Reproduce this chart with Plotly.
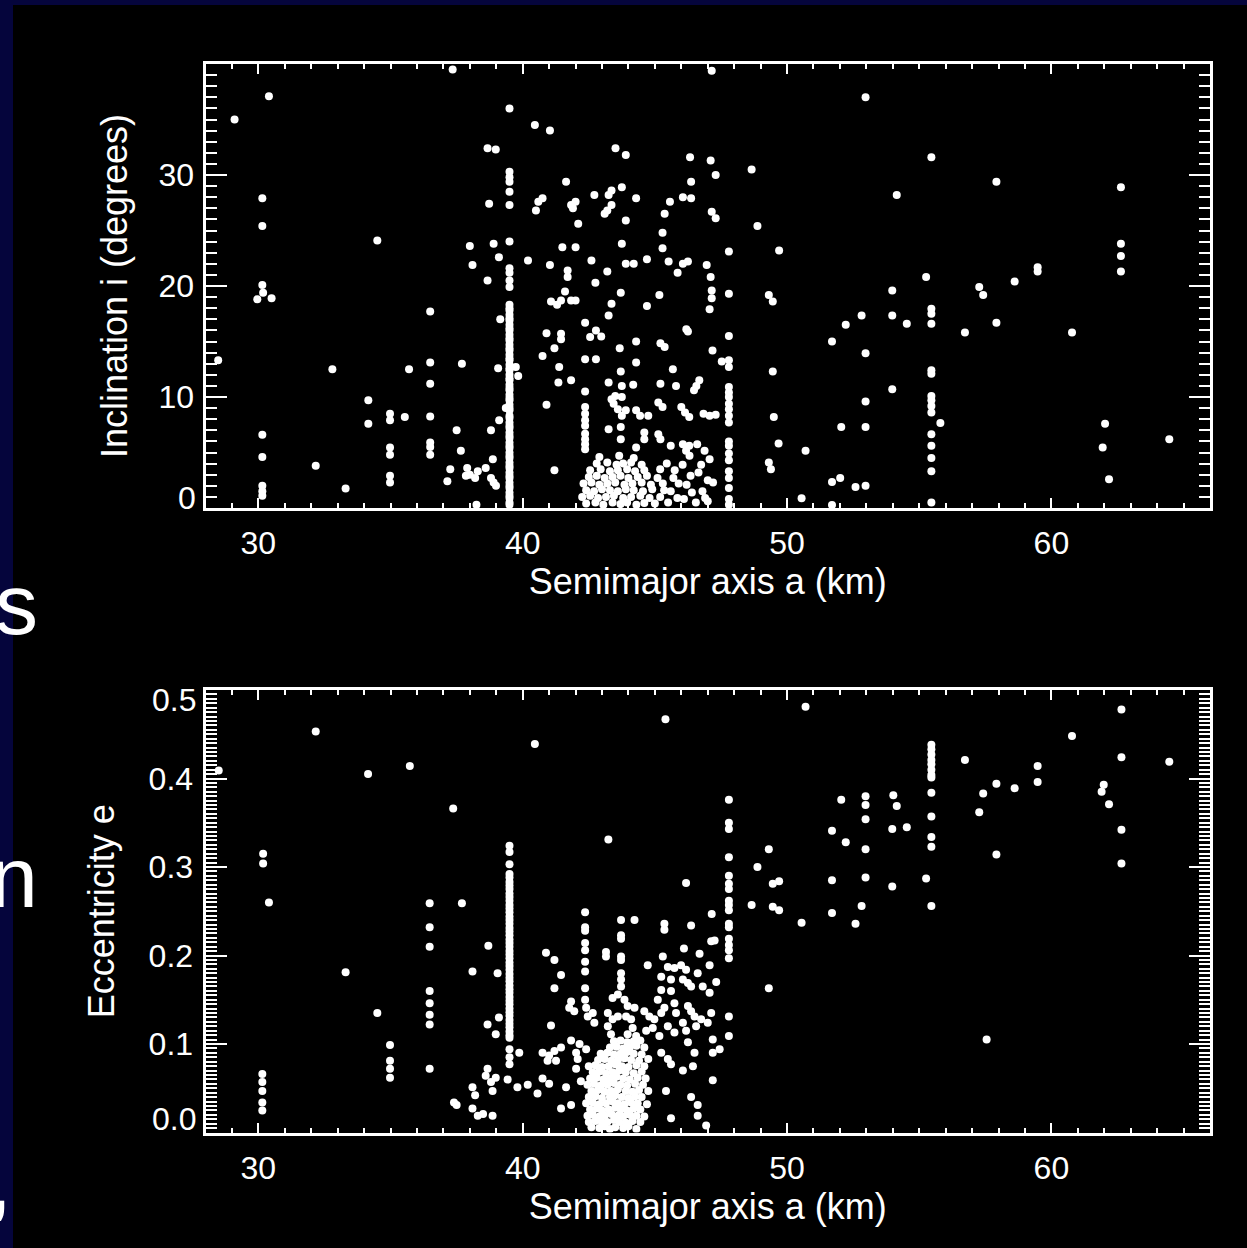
import plotly.graph_objects as go

W, H = 1247, 1248
NAVY = "#05053c"
WHITE = "#ffffff"
FONT = "Liberation Sans"

# ---------------------------------------------------------------------------
# Top panel: semimajor axis a vs inclination i (degrees)
# ---------------------------------------------------------------------------
plutino_a = 39.5          # 3:2 resonance column
plutino_incl = [30.3, 29.8, 29.4, 28.5, 27.3, 24.0, 21.6, 21.2, 20.5, 19.9,
                18.3, 18.0, 17.8, 17.4, 17.1, 16.9, 16.5, 16.2, 16.0, 15.6,
                15.3, 15.1, 14.7, 14.4, 14.2, 13.8, 13.5, 13.3, 12.9, 12.6,
                12.4, 12.0, 11.7, 11.5, 11.1, 10.8, 10.6, 10.2, 9.9, 9.7,
                9.3, 9.0, 8.8, 8.3, 8.1, 7.7, 7.4, 7.2, 6.8, 6.5, 6.3, 5.9,
                5.6, 5.4, 5.0, 4.7, 4.5, 4.1, 3.8, 3.6, 3.2, 2.9, 2.7, 2.3,
                2.0, 1.8, 1.4, 1.1, 0.9, 0.5, 0.3]

res21_a = 47.8            # 2:1 resonance column
res21_incl = [23.1, 19.3, 15.5, 13.3, 12.7, 10.9, 10.4, 10.0, 9.4, 8.9, 8.3,
              7.7, 6.0, 5.6, 4.9, 4.3, 3.3, 2.7, 1.8, 0.8, 0.3]

incl_scattered = [
    (29.1, 35.0), (30.4, 37.1), (37.35, 39.5), (39.5, 36.0), (40.46, 34.5),
    (41.03, 34.0), (38.67, 32.4), (38.98, 32.3), (38.73, 27.4), (41.64, 29.4),
    (42.71, 28.2), (40.59, 27.6), (40.75, 27.9), (40.5, 26.8), (41.83, 27.3),
    (42.0, 27.6), (41.9, 27.0), (42.1, 25.6), (30.15, 27.9), (30.15, 25.4),
    (34.5, 24.1), (38.0, 23.6), (38.9, 23.8), (39.1, 22.6), (38.1, 21.9),
    (40.2, 22.3), (41.03, 21.9), (41.5, 23.5), (42.0, 23.5), (42.6, 22.3),
    (41.7, 21.4), (41.7, 20.8), (42.75, 20.3), (38.67, 20.5), (30.15, 20.1),
    (30.18, 19.4), (29.96, 18.8), (30.5, 18.9), (41.6, 19.5), (41.07, 18.6),
    (41.3, 18.3), (41.45, 18.7), (41.83, 18.7), (42.0, 18.7), (36.5, 17.7),
    (39.15, 17.0), (42.36, 16.7), (42.77, 16.0), (40.9, 15.75), (41.45, 15.7),
    (41.45, 15.2), (42.55, 15.4), (41.2, 14.4), (40.75, 13.7), (42.36, 13.4),
    (42.77, 13.4), (28.48, 13.3), (32.8, 12.5), (35.7, 12.5), (36.5, 13.1),
    (37.7, 13.0), (39.07, 12.6), (39.74, 12.7), (39.83, 11.9), (41.38, 12.7),
    (36.5, 11.2), (41.35, 11.3), (41.83, 11.5), (42.36, 10.5), (34.16, 9.7),
    (39.36, 9.0), (40.9, 9.3), (34.98, 8.5), (34.98, 7.9), (35.54, 8.2),
    (36.5, 8.25), (39.11, 7.9), (34.16, 7.6), (37.5, 7.0), (38.8, 7.0),
    (30.15, 6.6), (36.5, 5.9), (36.5, 5.5), (36.5, 4.8), (34.98, 5.45),
    (34.98, 4.8), (37.66, 5.15), (30.15, 4.6), (42.36, 9.1), (42.36, 8.5),
    (42.36, 7.9), (42.36, 7.4), (42.36, 6.7), (42.36, 6.2), (42.36, 5.75),
    (42.36, 5.3), (32.17, 3.8), (38.87, 4.4), (37.26, 3.5), (37.15, 2.4),
    (37.9, 3.6), (38.0, 3.0), (38.2, 2.7), (37.85, 2.9), (38.3, 3.3),
    (38.6, 3.6), (38.8, 2.7), (38.9, 2.3), (38.99, 2.0), (41.2, 3.4),
    (34.98, 2.9), (34.98, 2.3), (33.3, 1.75), (30.15, 2.0), (30.15, 1.5),
    (30.15, 1.1), (38.25, 0.3),
    (47.15, 39.4), (52.97, 37.0), (43.51, 32.4), (43.9, 31.8), (46.33, 31.6),
    (47.11, 31.3), (47.3, 30.0), (48.66, 30.5), (55.46, 31.6), (57.92, 29.4),
    (62.63, 28.9), (46.37, 29.4), (43.25, 28.2), (43.36, 28.6), (43.75, 28.9),
    (44.29, 27.9), (45.57, 27.6), (46.06, 28.0), (46.37, 27.9), (54.15, 28.2),
    (43.36, 27.3), (43.2, 26.8), (43.1, 26.5), (45.37, 26.5), (43.9, 25.9),
    (47.15, 26.7), (47.3, 26.1), (48.88, 25.4), (45.29, 24.8), (43.75, 23.8),
    (45.29, 23.4), (49.7, 23.2), (62.63, 23.8), (62.63, 22.7), (62.63, 21.3),
    (43.9, 22.0), (44.2, 22.0), (44.7, 22.4), (45.52, 22.2), (46.06, 22.0),
    (46.25, 22.2), (45.86, 21.2), (46.96, 21.9), (47.11, 20.8), (43.2, 21.3),
    (59.48, 21.7), (59.48, 21.3), (55.26, 20.8), (58.61, 20.4), (57.27, 19.9),
    (57.42, 19.2), (53.98, 19.6), (43.71, 19.4), (45.17, 19.2), (47.15, 19.6),
    (47.15, 18.9), (49.31, 19.2), (49.46, 18.6), (43.36, 18.4), (44.7, 18.2),
    (47.07, 17.9), (43.25, 17.35), (52.82, 17.35), (53.98, 17.35), (55.46, 17.95),
    (55.46, 17.5), (55.46, 16.6), (54.53, 16.6), (52.22, 16.5), (57.92, 16.7),
    (56.73, 15.8), (60.78, 15.8), (51.7, 15.0), (42.97, 15.45), (46.19, 16.1),
    (46.25, 15.9), (44.29, 15.0), (43.67, 14.4), (45.21, 14.85), (45.37, 14.5),
    (47.18, 14.2), (52.97, 13.95), (44.29, 13.1), (47.53, 13.2), (43.71, 12.3),
    (45.68, 12.5), (49.46, 12.3), (55.46, 12.4), (55.46, 12.1), (43.25, 11.3),
    (43.75, 11.0), (44.18, 11.1), (45.21, 11.2), (45.8, 11.0), (46.68, 11.5),
    (46.57, 11.0), (46.48, 10.6), (53.98, 10.7), (43.36, 9.8), (43.5, 10.1),
    (43.75, 10.0), (43.44, 9.4), (43.6, 8.9), (43.75, 8.3), (43.9, 8.8),
    (52.97, 9.6), (55.46, 10.1), (55.46, 9.7), (55.46, 9.2), (55.46, 8.6),
    (44.29, 8.8), (44.44, 8.3), (44.75, 8.3), (45.13, 9.5), (45.29, 9.1),
    (46.0, 9.1), (46.14, 8.6), (46.3, 8.2), (46.84, 8.5), (47.07, 8.3),
    (47.3, 8.4), (49.5, 8.2), (55.8, 7.65), (62.03, 7.6), (52.05, 7.3),
    (52.97, 7.3), (43.25, 7.1), (43.71, 7.3), (44.6, 6.8), (44.6, 6.2),
    (45.13, 6.65), (45.21, 6.2), (46.06, 5.75), (46.3, 5.6), (46.6, 5.75),
    (43.71, 6.2), (44.29, 5.45), (45.6, 5.6), (46.18, 5.15), (46.31, 4.7),
    (46.88, 5.15), (47.07, 4.4), (55.46, 6.65), (55.46, 5.6), (55.46, 4.5),
    (55.46, 3.3), (49.68, 5.8), (50.7, 5.15), (64.46, 6.2), (61.94, 5.45),
    (49.31, 4.1), (49.39, 3.5), (62.18, 2.6), (51.7, 2.35), (52.01, 2.7),
    (52.59, 1.9), (52.97, 2.0), (50.55, 0.87), (51.7, 0.27), (55.46, 0.5),
]

incl_core = [
    (42.4, 0.4), (42.75, 0.5), (43.05, 0.3), (43.4, 0.5), (43.7, 0.35),
    (43.95, 0.5), (44.3, 0.3), (44.6, 0.45), (45.0, 0.4), (45.5, 0.5),
    (42.25, 1.0), (42.55, 1.1), (42.85, 0.9), (43.15, 1.0), (43.45, 1.1),
    (43.8, 0.9), (44.1, 1.0), (44.45, 1.1), (44.8, 0.9), (45.2, 1.0), (45.85, 0.9),
    (42.4, 1.6), (42.7, 1.5), (43.0, 1.7), (43.3, 1.6), (43.6, 1.5),
    (43.9, 1.7), (44.2, 1.6), (44.55, 1.5), (44.9, 1.7), (45.35, 1.6),
    (42.3, 2.2), (42.6, 2.3), (42.9, 2.1), (43.2, 2.2), (43.5, 2.3),
    (43.85, 2.1), (44.15, 2.2), (44.5, 2.3), (44.85, 2.1), (45.3, 2.2), (45.9, 2.2),
    (42.5, 2.8), (42.8, 2.9), (43.1, 2.7), (43.4, 2.8), (43.7, 2.9),
    (44.0, 2.7), (44.35, 2.8), (44.7, 2.9), (45.1, 2.7),
    (42.55, 3.4), (42.95, 3.5), (43.3, 3.3), (43.6, 3.4), (43.95, 3.5),
    (44.25, 3.3), (44.6, 3.4), (45.2, 3.5), (45.75, 3.4),
    (42.8, 4.0), (43.2, 4.1), (43.55, 3.9), (43.8, 4.0), (44.1, 4.1),
    (44.5, 3.9), (45.45, 4.0), (42.9, 4.6), (43.65, 4.7), (44.2, 4.5),
    (46.05, 3.9), (46.2, 2.1), (46.35, 2.9), (46.4, 1.4), (46.55, 0.5),
    (46.65, 3.2), (46.8, 1.5), (46.9, 0.9), (47.0, 2.5), (46.75, 3.9),
    (47.2, 2.3), (47.0, 0.6), (45.7, 2.7), (45.6, 1.5), (46.1, 0.8),
]

# ---------------------------------------------------------------------------
# Bottom panel: semimajor axis a vs eccentricity e
# ---------------------------------------------------------------------------
plutino_ecc = [0.324, 0.317, 0.303, 0.292, 0.288, 0.283, 0.279, 0.275, 0.270,
               0.266, 0.262, 0.257, 0.253, 0.249, 0.244, 0.240, 0.236, 0.231,
               0.227, 0.223, 0.218, 0.214, 0.210, 0.205, 0.201, 0.197, 0.192,
               0.188, 0.184, 0.179, 0.175, 0.171, 0.166, 0.162, 0.158, 0.153,
               0.149, 0.145, 0.140, 0.136, 0.132, 0.127, 0.123, 0.119, 0.114,
               0.110, 0.107, 0.094, 0.085, 0.077]

res21_ecc = [0.376, 0.350, 0.343, 0.311, 0.290, 0.281, 0.275, 0.262, 0.257,
             0.251, 0.236, 0.232, 0.219, 0.212, 0.206, 0.197, 0.131, 0.109]

ecc_scattered = [
    (32.17, 0.453), (40.46, 0.439), (28.5, 0.409), (34.15, 0.405), (35.73, 0.414),
    (37.37, 0.366), (30.18, 0.315), (30.18, 0.304), (30.4, 0.26), (37.7, 0.259),
    (36.48, 0.259), (36.48, 0.232), (36.48, 0.21), (36.48, 0.16), (36.48, 0.146),
    (36.48, 0.133), (36.48, 0.122), (36.48, 0.072), (33.3, 0.181), (38.1, 0.182),
    (38.7, 0.211), (39.05, 0.18), (34.5, 0.135), (34.98, 0.099), (34.98, 0.081),
    (34.98, 0.072), (34.98, 0.062), (30.15, 0.066), (30.15, 0.057), (30.15, 0.047),
    (30.15, 0.034), (30.15, 0.025), (38.67, 0.122), (39.1, 0.13), (38.98, 0.111),
    (39.43, 0.06), (38.67, 0.072), (38.6, 0.064), (38.8, 0.057), (38.98, 0.062),
    (38.86, 0.047), (38.1, 0.051), (38.2, 0.042), (38.1, 0.027), (38.3, 0.019),
    (38.5, 0.021), (37.4, 0.034), (37.5, 0.031), (38.86, 0.019),
    (42.36, 0.249), (42.36, 0.232), (42.36, 0.228), (42.36, 0.214), (42.36, 0.206),
    (42.36, 0.193), (42.36, 0.182), (42.36, 0.163), (42.36, 0.150),
    (43.72, 0.240), (43.72, 0.223), (43.72, 0.219), (43.72, 0.199), (43.72, 0.195),
    (43.72, 0.180), (43.72, 0.173), (43.72, 0.165),
    (44.23, 0.240), (45.36, 0.236), (45.36, 0.229), (46.37, 0.234), (47.15, 0.247),
    (46.18, 0.282), (47.13, 0.216), (47.26, 0.217), (46.1, 0.208), (46.69, 0.202),
    (45.3, 0.199), (43.15, 0.204), (43.15, 0.199), (44.73, 0.189), (45.49, 0.187),
    (45.74, 0.186), (45.99, 0.189), (46.18, 0.184), (47.07, 0.189), (46.62, 0.18),
    (45.24, 0.176), (45.61, 0.173), (46.06, 0.173), (46.25, 0.169), (46.37, 0.165),
    (47.32, 0.17), (46.81, 0.165), (47.07, 0.158), (40.88, 0.203), (41.2, 0.195),
    (41.45, 0.178), (41.2, 0.163), (45.24, 0.161), (45.61, 0.16),
    (41.83, 0.148), (41.76, 0.141), (41.95, 0.137), (42.4, 0.141), (42.65, 0.135),
    (42.46, 0.131), (42.71, 0.124), (43.4, 0.152), (43.6, 0.156), (43.85, 0.15),
    (43.97, 0.143), (44.23, 0.141), (43.22, 0.135), (43.4, 0.128), (43.6, 0.131),
    (43.91, 0.131), (44.1, 0.128), (44.6, 0.137), (44.79, 0.131), (44.98, 0.128),
    (45.24, 0.135), (45.11, 0.15), (45.36, 0.141), (45.74, 0.146), (45.8, 0.135),
    (46.25, 0.143), (46.37, 0.137), (46.5, 0.131), (46.56, 0.12), (46.75, 0.128),
    (47.0, 0.124), (47.13, 0.135), (46.06, 0.124), (46.18, 0.115), (45.49, 0.12),
    (45.74, 0.113), (44.67, 0.115), (44.92, 0.118), (45.17, 0.109), (44.16, 0.118),
    (43.97, 0.111), (44.29, 0.109), (43.22, 0.12), (43.34, 0.111), (47.19, 0.105),
    (46.25, 0.102), (46.5, 0.09), (47.19, 0.09), (47.45, 0.094),
    (41.07, 0.121), (39.87, 0.09), (40.75, 0.09), (41.0, 0.087), (41.2, 0.092),
    (41.45, 0.096), (40.94, 0.081), (41.26, 0.081), (41.83, 0.104), (42.15, 0.1),
    (42.4, 0.094), (42.02, 0.09), (42.08, 0.083), (45.24, 0.09), (45.49, 0.083),
    (45.61, 0.077), (46.06, 0.07), (46.44, 0.075), (42.02, 0.072), (39.8, 0.051),
    (40.19, 0.054), (40.56, 0.044), (40.75, 0.061), (41.0, 0.055), (41.64, 0.051),
    (42.2, 0.058), (41.45, 0.027), (41.83, 0.031), (45.42, 0.047), (46.37, 0.04),
    (46.62, 0.031), (46.62, 0.019), (45.61, 0.016), (47.19, 0.059), (46.94, 0.008),
    (45.4, 0.467), (50.7, 0.481), (62.65, 0.478), (62.65, 0.424), (62.65, 0.342),
    (62.65, 0.304), (60.78, 0.448), (55.26, 0.287), (56.73, 0.421), (64.46, 0.419),
    (59.48, 0.414), (59.48, 0.396), (57.92, 0.394), (58.61, 0.389), (57.42, 0.383),
    (57.27, 0.362), (61.98, 0.393), (61.9, 0.385), (62.18, 0.371), (52.97, 0.38),
    (52.97, 0.37), (52.97, 0.354), (52.97, 0.32), (52.97, 0.288), (52.05, 0.376),
    (54.02, 0.381), (54.15, 0.369), (53.98, 0.343), (54.53, 0.345), (51.7, 0.341),
    (52.22, 0.328), (51.7, 0.285), (53.98, 0.278), (52.82, 0.256), (51.7, 0.248),
    (52.59, 0.236), (50.55, 0.237), (57.92, 0.314), (57.55, 0.105), (49.31, 0.32),
    (48.88, 0.3), (49.46, 0.281), (49.7, 0.284), (48.66, 0.257), (49.46, 0.255),
    (49.7, 0.251), (49.31, 0.163), (43.24, 0.331),
    (55.46, 0.438), (55.46, 0.433), (55.46, 0.427), (55.46, 0.421), (55.46, 0.416),
    (55.46, 0.410), (55.46, 0.404), (55.46, 0.401), (55.46, 0.384), (55.46, 0.357),
    (55.46, 0.334), (55.46, 0.323), (55.46, 0.256),
]

ecc_core = [
    (42.6, 0.006), (42.9, 0.005), (43.1, 0.007), (43.3, 0.004), (43.5, 0.006),
    (43.8, 0.005), (44.0, 0.007), (44.3, 0.004),
    (42.5, 0.012), (42.75, 0.013), (43.0, 0.011), (43.2, 0.012), (43.45, 0.014),
    (43.65, 0.012), (43.9, 0.011), (44.15, 0.013), (44.45, 0.012),
    (42.45, 0.019), (42.65, 0.020), (42.9, 0.018), (43.1, 0.019), (43.35, 0.021),
    (43.6, 0.019), (43.8, 0.018), (44.05, 0.020), (44.3, 0.019), (44.6, 0.018),
    (42.55, 0.026), (42.8, 0.027), (43.0, 0.025), (43.25, 0.026), (43.5, 0.028),
    (43.7, 0.026), (43.95, 0.025), (44.2, 0.027), (44.45, 0.026),
    (42.4, 0.033), (42.65, 0.034), (42.9, 0.032), (43.15, 0.033), (43.4, 0.035),
    (43.6, 0.033), (43.85, 0.032), (44.1, 0.034), (44.35, 0.033), (44.7, 0.032),
    (42.5, 0.040), (42.75, 0.041), (43.0, 0.039), (43.3, 0.040), (43.5, 0.042),
    (43.75, 0.040), (44.0, 0.039), (44.25, 0.041), (44.5, 0.040),
    (42.6, 0.047), (42.85, 0.048), (43.1, 0.046), (43.35, 0.047), (43.6, 0.049),
    (43.9, 0.047), (44.15, 0.046), (44.4, 0.048), (44.75, 0.047),
    (42.45, 0.054), (42.7, 0.055), (42.95, 0.053), (43.2, 0.054), (43.45, 0.056),
    (43.7, 0.054), (43.95, 0.053), (44.25, 0.055), (44.55, 0.054),
    (42.55, 0.061), (42.8, 0.062), (43.05, 0.060), (43.3, 0.061), (43.55, 0.063),
    (43.8, 0.061), (44.05, 0.060), (44.35, 0.062), (44.65, 0.061),
    (42.65, 0.068), (42.9, 0.069), (43.15, 0.067), (43.4, 0.068), (43.65, 0.070),
    (43.9, 0.068), (44.2, 0.067), (44.5, 0.069),
    (42.5, 0.075), (42.75, 0.076), (43.0, 0.074), (43.25, 0.075), (43.5, 0.077),
    (43.75, 0.075), (44.0, 0.074), (44.3, 0.076), (44.6, 0.075),
    (42.85, 0.082), (43.1, 0.083), (43.35, 0.081), (43.6, 0.082), (43.85, 0.084),
    (44.1, 0.082), (44.4, 0.081), (44.75, 0.083),
    (42.95, 0.089), (43.2, 0.090), (43.45, 0.088), (43.7, 0.089), (43.95, 0.091),
    (44.2, 0.089), (44.5, 0.088),
    (43.3, 0.096), (43.55, 0.097), (43.8, 0.095), (44.05, 0.096), (44.3, 0.098),
    (44.6, 0.096), (43.45, 0.103), (43.7, 0.104), (43.95, 0.102), (44.2, 0.103),
    (44.45, 0.104),
]


def split(pairs):
    return [p[0] for p in pairs], [p[1] for p in pairs]


dot = dict(symbol="circle", size=8, color=WHITE, line=dict(width=0))

fig = go.Figure()

a1, i1 = split(incl_scattered)
a2, i2 = split(incl_core)
top_a = a1 + a2 + [plutino_a] * len(plutino_incl) + [res21_a] * len(res21_incl)
top_i = i1 + i2 + plutino_incl + res21_incl
fig.add_trace(go.Scatter(x=top_a, y=top_i, mode="markers", marker=dot,
                         xaxis="x", yaxis="y", showlegend=False))

b1, e1 = split(ecc_scattered)
b2, e2 = split(ecc_core)
bot_a = b1 + b2 + [plutino_a] * len(plutino_ecc) + [res21_a] * len(res21_ecc)
bot_e = e1 + e2 + plutino_ecc + res21_ecc
fig.add_trace(go.Scatter(x=bot_a, y=bot_e, mode="markers", marker=dot,
                         xaxis="x2", yaxis="y2", showlegend=False))

# ---------------------------------------------------------------------------
# Axes: boxed frame with inward ticks on all four sides
# ---------------------------------------------------------------------------
X_DOM = [205.5 / W, 1210 / W]
TOP_DOM = [1 - 508 / H, 1 - 64 / H]
BOT_DOM = [1 - 1132.5 / H, 1 - 690 / H]

tick_font = dict(family=FONT, size=32, color=WHITE)
title_font = dict(family=FONT, size=36, color=WHITE)

base = dict(showline=True, linecolor=WHITE, linewidth=3, mirror="ticks",
            ticks="inside", tickcolor=WHITE, tickwidth=2,
            showgrid=False, zeroline=False, automargin=False,
            tickfont=tick_font, fixedrange=True)


def xaxis(anchor):
    return dict(base, domain=X_DOM, anchor=anchor, range=[28, 66],
                tickmode="linear", tick0=0, dtick=10, ticklen=10,
                minor=dict(ticks="inside", tickmode="linear", tick0=0, dtick=1,
                           ticklen=5, tickwidth=2, tickcolor=WHITE),
                ticklabelstandoff=5,
                title=dict(text="Semimajor axis a (km)", font=title_font,
                           standoff=8))


fig.update_layout(
    width=W, height=H, autosize=False,
    margin=dict(l=0, r=0, t=0, b=0),
    paper_bgcolor=NAVY, plot_bgcolor="#000000",
    xaxis=xaxis("y"),
    xaxis2=xaxis("y2"),
    yaxis=dict(base, domain=TOP_DOM, anchor="x", range=[0, 40],
               tickmode="linear", tick0=0, dtick=10, ticklen=21,
               labelalias={"0": " ", "40": " "},
               minor=dict(ticks="inside", tickmode="linear", tick0=0, dtick=1,
                          ticklen=11, tickwidth=2, tickcolor=WHITE),
               ticklabelstandoff=2,
               title=dict(text="Inclination i (degrees)", font=title_font,
                          standoff=20)),
    yaxis2=dict(base, domain=BOT_DOM, anchor="x2", range=[0, 0.5],
                tickmode="linear", tick0=0, dtick=0.1, ticklen=21,
                tickformat=".1f", labelalias={"0.0": " ", "0.5": " "},
                minor=dict(ticks="inside", tickmode="linear", tick0=0,
                           dtick=0.005, ticklen=11, tickwidth=2,
                           tickcolor=WHITE),
                ticklabelstandoff=3,
                title=dict(text="Eccentricity e", font=title_font,
                           standoff=24)),
)

# black slide panel behind the plots
fig.add_shape(type="rect", xref="paper", yref="paper",
              x0=13 / W, x1=1.01, y0=-0.01, y1=1 - 5 / H,
              fillcolor="#000000", line=dict(width=0), layer="below")

# end labels sit just inside the frame
ann = []
for text, yref, yval, shift in [("0", "y", 0, 10), ("0.0", "y2", 0, 14),
                                ("0.5", "y2", 0.5, -10)]:
    ann.append(dict(text=text, xref="paper", x=X_DOM[0], xanchor="right",
                    xshift=-8, yref=yref, y=yval, yanchor="middle",
                    yshift=shift, showarrow=False, font=tick_font))

# fragments of the slide text at the left edge
for text, xr, ycen in [("s", 40, 604), ("n", 40, 877), (",", 14, 1180)]:
    ann.append(dict(text=text, xref="paper", x=xr / W, xanchor="right",
                    yref="paper", y=1 - ycen / H, yanchor="middle",
                    showarrow=False,
                    font=dict(family=FONT, size=86, color=WHITE)))
fig.update_layout(annotations=ann)

fig.write_html("out.html")
